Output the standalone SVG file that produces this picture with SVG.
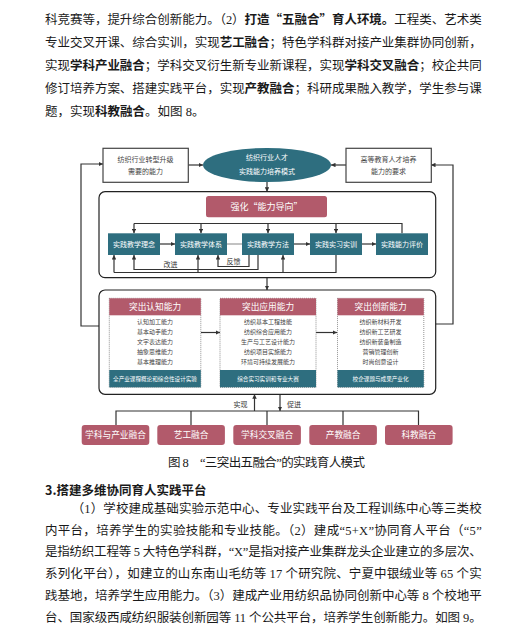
<svg xmlns="http://www.w3.org/2000/svg" width="529" height="631" viewBox="0 0 529 631">
<style>
.body{font-family:"Liberation Serif","Noto Sans CJK SC",serif;font-size:12.5px;fill:#1a1a1a}
.b{font-family:"Noto Sans CJK SC",sans-serif;font-weight:bold}
.d{font-family:"Noto Sans CJK SC","Liberation Sans",sans-serif;text-anchor:middle}
.ln{fill:none;stroke:#333;stroke-width:1.2}
.wbox{fill:#fff;stroke:#444;stroke-width:1.2}
.teal{fill:#2e6e7f}
.red{fill:#b25a6b}
.outer{fill:none;stroke:#222;stroke-width:1.2}
.dot{fill:#fff;stroke:#666;stroke-width:0.7;stroke-dasharray:1 1}
</style>
<defs>
<marker id="ah" viewBox="0 0 8 8" refX="8" refY="4" markerWidth="4.5" markerHeight="4.5" orient="auto" markerUnits="userSpaceOnUse">
<path d="M0,0 L8,4 L0,8 z" fill="#333"/>
</marker>
</defs>
<rect width="529" height="631" fill="#fff"/>

<g id="para-top" class="body">
<text x="45" y="23.5" textLength="436.7" lengthAdjust="spacing">科竞赛等，提升综合创新能力。（2）<tspan class="b">打造“五融合”育人环境。</tspan>工程类、艺术类</text>
<text x="45" y="47" textLength="436.7" lengthAdjust="spacing">专业交叉开课、综合实训，实现<tspan class="b">艺工融合</tspan>；特色学科群对接产业集群协同创新，</text>
<text x="45" y="70" textLength="436.7" lengthAdjust="spacing">实现<tspan class="b">学科产业融合</tspan>；学科交叉衍生新专业新课程，实现<tspan class="b">学科交叉融合</tspan>；校企共同</text>
<text x="45" y="93" textLength="436.7" lengthAdjust="spacing">修订培养方案、搭建实践平台，实现<tspan class="b">产教融合</tspan>；科研成果融入教学，学生参与课</text>
<text x="45" y="115.5">题，实现<tspan class="b">科教融合</tspan>。如图 8。</text>
</g>

<g id="connectors">
<path class="ln" d="M99,326 H81 V164 H103" marker-end="url(#ah)"/>
<path class="ln" d="M435.7,324 H453 V165 H431" marker-end="url(#ah)"/>
<path class="ln" d="M188,165 H203" marker-end="url(#ah)"/>
<path class="ln" d="M346,165 H331" marker-end="url(#ah)"/>
<path class="ln" d="M267,182 V191.7" marker-end="url(#ah)"/>
<path class="ln" d="M402,233.3 V223.5 H134"/>
<path class="ln" d="M134,223.5 V233.3" marker-end="url(#ah)"/>
<path class="ln" d="M201,223.5 V233.3" marker-end="url(#ah)"/>
<path class="ln" d="M268,223.5 V233.3" marker-end="url(#ah)"/>
<path class="ln" d="M336,223.5 V233.3" marker-end="url(#ah)"/>
<path class="ln" d="M160,244 H175" marker-end="url(#ah)"/>
<path class="ln" d="M227,244 H242" style="stroke:#999"/>
<path class="ln" d="M294,244 H310" marker-end="url(#ah)"/>
<path class="ln" d="M362,244 H376" marker-end="url(#ah)"/>
<path class="ln" d="M249,255 V266.5 H218 V255" marker-end="url(#ah)"/>
<path class="ln" d="M258,255 V269.5 H134 V255" marker-end="url(#ah)"/>
<path class="ln" d="M336,255 V272.5 H114"/>
<path class="ln" d="M114,272.5 V255" marker-end="url(#ah)"/>
<path class="ln" d="M198,272.5 V255" marker-end="url(#ah)"/>
<path class="ln" d="M283,272.5 V255" marker-end="url(#ah)"/>
<path class="ln" d="M267,277.7 V290" marker-end="url(#ah)"/>
<path class="ln" d="M201,332.5 H220" marker-end="url(#ah)"/>
<path class="ln" d="M316,332.5 H337" marker-end="url(#ah)"/>
<path class="ln" d="M254.5,411 V394.3" marker-end="url(#ah)"/>
<path class="ln" d="M280,394.3 V411" marker-end="url(#ah)"/>
<path class="ln" d="M116,425 V411 H418.5 V425 M191,411 V425 M267,411 V425 M343,411 V425"/>
<text class="d" x="170.5" y="266.5" font-size="7" fill="#333">改进</text>
<text class="d" x="233.5" y="264" font-size="7" fill="#333">反馈</text>
<text class="d" x="240.5" y="406.5" font-size="7" fill="#333">实现</text>
<text class="d" x="294" y="406.5" font-size="7" fill="#333">促进</text>
</g>

<g id="node-industry">
<rect class="wbox" x="103" y="148.3" width="85.3" height="34"/>
<text class="d" x="145.6" y="161.8" font-size="7" fill="#444">纺织行业转型升级</text>
<text class="d" x="145.6" y="174.2" font-size="7" fill="#444">需要的能力</text>
</g>
<g id="node-model">
<ellipse class="teal" cx="267" cy="165" rx="64" ry="17"/>
<text class="d" x="267" y="160" font-size="7" fill="#fff">纺织行业人才</text>
<text class="d" x="267" y="173.5" font-size="7" fill="#fff">实践能力培养模式</text>
</g>
<g id="node-higher-ed">
<rect class="wbox" x="346" y="148.3" width="85.3" height="34"/>
<text class="d" x="388.6" y="161.8" font-size="7" fill="#444">高等教育人才培养</text>
<text class="d" x="388.6" y="174.2" font-size="7" fill="#444">能力的要求</text>
</g>

<g id="group-ability-orientation">
<rect class="outer" x="99" y="191.7" width="336.7" height="86" rx="6"/>
<g id="node-banner">
<rect class="red" x="206" y="196" width="121" height="21.3" rx="2.5"/>
<text class="d" x="266.5" y="209.8" font-size="9" fill="#fff">强化“能力导向”</text>
</g>
<g id="node-concept"><rect class="teal" x="108" y="233.3" width="52" height="21.7"/><text class="d" x="134" y="246.6" font-size="7" fill="#fff">实践教学理念</text></g>
<g id="node-system"><rect class="teal" x="175" y="233.3" width="52" height="21.7"/><text class="d" x="201" y="246.6" font-size="7" fill="#fff">实践教学体系</text></g>
<g id="node-method"><rect class="teal" x="242" y="233.3" width="52" height="21.7"/><text class="d" x="268" y="246.6" font-size="7" fill="#fff">实践教学方法</text></g>
<g id="node-internship"><rect class="teal" x="310" y="233.3" width="52" height="21.7"/><text class="d" x="336" y="246.6" font-size="7" fill="#fff">实践实习实训</text></g>
<g id="node-evaluation"><rect class="teal" x="376" y="233.3" width="52" height="21.7"/><text class="d" x="402" y="246.6" font-size="7" fill="#fff">实践能力评价</text></g>
</g>

<g id="group-three">
<rect class="outer" x="99" y="290" width="336.7" height="104.3" rx="6"/>
<g id="node-cognition">
<rect class="dot" x="109.3" y="298.3" width="91.5" height="89"/>
<rect class="red" x="109.3" y="298.3" width="91.5" height="17"/>
<rect class="teal" x="109.3" y="370" width="91.5" height="17.3"/>
<text class="d" x="155" y="310" font-size="8.7" fill="#fff">突出认知能力</text>
<g font-size="6" fill="#444"><text class="d" x="155" y="324.4">认知加工能力</text><text class="d" x="155" y="334.2">基本动手能力</text><text class="d" x="155" y="344">文字表达能力</text><text class="d" x="155" y="353.8">抽象思维能力</text><text class="d" x="155" y="363.6">基本推理能力</text></g>
<text class="d" x="155" y="380.6" font-size="5.6" fill="#fff">全产业课程概论和综合性设计实验</text>
</g>
<g id="node-application">
<rect class="dot" x="220" y="298.3" width="96" height="89"/>
<rect class="red" x="220" y="298.3" width="96" height="17"/>
<rect class="teal" x="220" y="370" width="96" height="17.3"/>
<text class="d" x="268" y="310" font-size="8.7" fill="#fff">突出应用能力</text>
<g font-size="6" fill="#444"><text class="d" x="268" y="324.4">纺织基本工程技能</text><text class="d" x="268" y="334.2">纺织综合应用能力</text><text class="d" x="268" y="344">生产与工艺设计能力</text><text class="d" x="268" y="353.8">纺织项目实施能力</text><text class="d" x="268" y="363.6">环境可持续发展能力</text></g>
<text class="d" x="268" y="380.6" font-size="5.6" fill="#fff">综合实习实训和专业大赛</text>
</g>
<g id="node-innovation">
<rect class="dot" x="337.5" y="298.3" width="86.3" height="89"/>
<rect class="red" x="337.5" y="298.3" width="86.3" height="17"/>
<rect class="teal" x="337.5" y="370" width="86.3" height="17.3"/>
<text class="d" x="380.6" y="310" font-size="8.7" fill="#fff">突出创新能力</text>
<g font-size="6" fill="#444"><text class="d" x="380.6" y="324.4">纺织新材料开发</text><text class="d" x="380.6" y="334.2">纺织新工艺研发</text><text class="d" x="380.6" y="344">纺织新装备制造</text><text class="d" x="380.6" y="353.8">营销管理创新</text><text class="d" x="380.6" y="363.6">时尚创意设计</text></g>
<text class="d" x="380.6" y="380.6" font-size="5.6" fill="#fff">校企课题与成果产业化</text>
</g>
</g>

<g id="node-f1"><rect class="red" x="81.7" y="425" width="67.6" height="20" rx="3"/><text class="d" x="115.5" y="438.3" font-size="8.7" fill="#fff">学科与产业融合</text></g>
<g id="node-f2"><rect class="red" x="157.3" y="425" width="67.6" height="20" rx="3"/><text class="d" x="191.1" y="438.3" font-size="8.7" fill="#fff">艺工融合</text></g>
<g id="node-f3"><rect class="red" x="233.3" y="425" width="67.6" height="20" rx="3"/><text class="d" x="267.1" y="438.3" font-size="8.7" fill="#fff">学科交叉融合</text></g>
<g id="node-f4"><rect class="red" x="309.3" y="425" width="67.6" height="20" rx="3"/><text class="d" x="343.1" y="438.3" font-size="8.7" fill="#fff">产教融合</text></g>
<g id="node-f5"><rect class="red" x="385" y="425" width="67.6" height="20" rx="3"/><text class="d" x="418.8" y="438.3" font-size="8.7" fill="#fff">科教融合</text></g>

<text class="body" x="168" y="466.5" font-size="11" textLength="197" lengthAdjust="spacing">图 8　“三突出五融合”的实践育人模式</text>

<g id="para-bottom" class="body">
<text x="45" y="494.5" class="b" font-size="12.5">3.搭建多维协同育人实践平台</text>
<text x="71.7" y="513" textLength="410" lengthAdjust="spacing">（1）学校建成基础实验示范中心、专业实践平台及工程训练中心等三类校</text>
<text x="45" y="534.7" textLength="436.7" lengthAdjust="spacing">内平台，培养学生的实验技能和专业技能。（2）建成“5+X”协同育人平台（“5”</text>
<text x="45" y="556.4" textLength="436.7" lengthAdjust="spacing">是指纺织工程等 5 大特色学科群，“X”是指对接产业集群龙头企业建立的多层次、</text>
<text x="45" y="578.1" textLength="436.7" lengthAdjust="spacing">系列化平台），如建立的山东南山毛纺等 17 个研究院、宁夏中银绒业等 65 个实</text>
<text x="45" y="599.8" textLength="436.7" lengthAdjust="spacing">践基地，培养学生应用能力。（3）建成产业用纺织品协同创新中心等 8 个校地平</text>
<text x="45" y="621.5" textLength="436.7" lengthAdjust="spacing">台、国家级西咸纺织服装创新园等 11 个公共平台，培养学生创新能力。如图 9。</text>
</g>
</svg>
